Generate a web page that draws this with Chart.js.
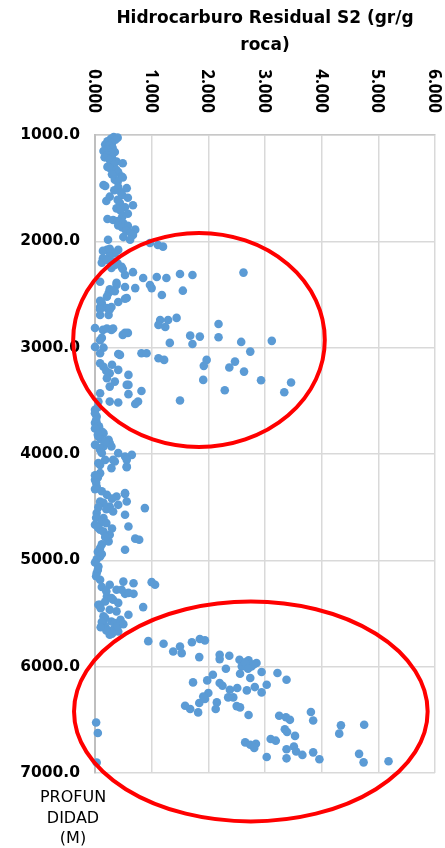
<!DOCTYPE html>
<html>
<head>
<meta charset="utf-8">
<script src="https://cdn.jsdelivr.net/npm/chart.js@4/dist/chart.umd.min.js"></script>
<style>
  html, body { margin: 0; padding: 0; background: #fff; }
  #wrap { width: 445px; height: 848px; position: relative; }
</style>
</head>
<body>
<div id="wrap"><canvas id="c" width="445" height="848"></canvas></div>
<script>
// ---- Data: [S2 (gr/g roca), depth (m)] ----
const seg1000 = [
  [0.33,1020],[0.40,1025],[0.28,1035],[0.36,1045],[0.22,1060],[0.30,1075],[0.18,1090],[0.25,1100],
  [0.31,1120],[0.21,1140],[0.15,1150],[0.35,1160],[0.28,1170],[0.22,1190],[0.17,1210],[0.30,1215],
  [0.26,1235],[0.38,1250],[0.49,1265],[0.33,1280],[0.22,1300],[0.26,1310],[0.38,1330],[0.41,1350],
  [0.30,1370],[0.47,1390],[0.49,1400],[0.35,1420],[0.40,1440],[0.15,1470],[0.18,1480],[0.41,1490],
  [0.56,1500],[0.34,1520],[0.46,1540],[0.48,1565],[0.26,1580],[0.58,1590],[0.40,1610],[0.20,1620],
  [0.44,1640],[0.67,1660],[0.53,1680],[0.38,1690],[0.45,1710],[0.58,1740],[0.48,1770],[0.22,1790],
  [0.32,1800],[0.40,1810],[0.50,1830],[0.41,1850],[0.58,1855],[0.48,1870],[0.71,1890],[0.55,1900],
  [0.63,1920],[0.67,1940],[0.50,1960],[0.62,1985],[0.23,1985]
];
const seg2000 = [
  [0.21,2080],[0.41,2080],[0.97,2015],[1.11,2035],[1.20,2050],[0.14,2090],[0.26,2070],[0.35,2110],
  [0.14,2160],[0.26,2140],[0.35,2190],[0.12,2200],[0.40,2210],[0.49,2260],[0.21,2175],[0.35,2222],
  [0.47,2240],[0.29,2250],[0.67,2290],[0.53,2316],[0.09,2380],[0.85,2345],[1.09,2335],[1.26,2345],
  [1.50,2307],[1.72,2316],[2.62,2294],[0.38,2410],[0.53,2430],[0.71,2440],[0.97,2410],[1.00,2440],
  [1.18,2505],[1.55,2464],[0.24,2486],[0.56,2533],[0.41,2570],[0.12,2580],[0.09,2617],[0.21,2627],
  [0.29,2617],[0.09,2692],[0.24,2692],[1.15,2740],[1.29,2740],[1.44,2720],[1.12,2786],[1.24,2805],
  [2.18,2777],[0.00,2815],[0.14,2833],[0.29,2833],[0.49,2880],[0.58,2861],[0.12,2908],[0.00,2993],
  [1.32,2955],[1.68,2887],[1.85,2896],[2.18,2902],[1.72,2965],[2.58,2946],[3.12,2936],
  [0.38,2390],[0.26,2450],[0.21,2520],[0.35,2470],[0.53,2540],[0.09,2560],[0.09,2640],[0.26,2640],
  [0.21,2820],[0.32,2820],[0.53,2860],[0.09,2930]
];
const seg3000 = [
  [0.15,3000],[0.41,3060],[0.09,3052],[0.44,3068],[0.82,3052],[0.91,3052],[1.12,3099],[1.22,3115],
  [0.09,3146],[1.97,3115],[1.92,3171],[2.47,3131],[2.37,3187],[2.63,3225],[2.74,3037],[0.26,3240],
  [0.41,3209],[0.59,3256],[0.21,3287],[0.35,3319],[0.59,3350],[0.26,3366],[0.82,3407],[0.59,3437],
  [0.09,3428],[0.41,3516],[0.76,3507],[0.71,3529],[1.50,3497],[1.91,3303],[2.93,3306],[3.46,3328],
  [3.34,3419],[2.29,3400],[0.06,3507],[0.26,3507],[0.56,3350],[0.00,3585],[0.03,3648],[0.00,3707],
  [0.12,3789],[0.06,3836],[0.24,3867],[0.00,3914],[0.15,3930],[0.29,3930],[0.09,3961],[0.41,3992],
  [0.03,3710],[0.15,3804],[0.26,3898],[0.09,3945],[0.00,3617],[0.05,3560],[0.02,3680],[0.07,3740],
  [0.00,3760],[0.10,3860],[0.18,3880],[0.05,3820],[0.12,3990],[0.15,3180],[0.30,3160],[0.20,3220]
];
const seg4000 = [
  [0.65,4008],[0.53,4024],[0.18,4055],[0.35,4071],[0.56,4118],[0.09,4102],[0.29,4133],[0.56,4055],
  [0.32,4055],[0.06,4086],[0.56,4124],[0.09,4180],[0.00,4243],[0.03,4306],[0.21,4384],[0.38,4400],
  [0.53,4375],[0.09,4447],[0.56,4447],[0.26,4494],[0.41,4478],[0.53,4572],[0.88,4509],[0.03,4556],
  [0.15,4603],[0.00,4666],[0.09,4713],[0.26,4760],[0.59,4682],[0.71,4796],[0.78,4807],[0.24,4822],
  [0.53,4901],[0.09,4885],[0.09,4964],[0.32,4541],[0.53,4368],[0.00,4200],[0.05,4220],[0.02,4270],
  [0.00,4330],[0.12,4350],[0.30,4420],[0.15,4460],[0.20,4520],[0.06,4500],[0.02,4600],[0.12,4640],
  [0.20,4650],[0.05,4690],[0.15,4730],[0.30,4700],[0.18,4780],[0.12,4850],[0.05,4920],[0.12,4940],
  [0.03,4990]
];
const seg5000 = [
  [0.06,5058],[0.03,5120],[0.09,5183],[0.26,5230],[0.50,5200],[0.68,5215],[1.00,5205],[1.06,5230],
  [0.38,5277],[0.53,5315],[0.68,5315],[0.21,5340],[0.09,5418],[0.32,5371],[0.85,5440],[0.26,5465],
  [0.15,5527],[0.06,5418],[0.18,5387],[0.29,5355],[0.41,5400],[0.59,5306],[0.47,5277],[0.38,5480],
  [0.59,5512],[0.18,5543],[0.29,5575],[0.18,5622],[0.35,5637],[0.41,5669],[0.26,5700],[0.94,5760],
  [1.21,5785],[1.38,5857],[1.50,5810],[1.53,5873],[1.71,5770],[1.85,5740],[1.94,5753],[1.84,5910],
  [2.20,5889],[2.37,5898],[2.20,5929],[2.55,5935],[2.71,5941],[2.85,5966],[2.59,5997],[2.76,5997],
  [0.00,5020],[0.05,5090],[0.02,5150],[0.12,5250],[0.20,5290],[0.10,5450],[0.15,5600],[0.25,5660],
  [0.12,5580],[0.35,5590],[0.45,5560],[0.20,5660],[0.30,5690],[0.40,5620],[0.50,5600],[0.10,5630],
  [2.65,5960],[2.80,5980]
];
const seg6000 = [
  [2.31,6019],[2.56,6066],[2.94,6050],[2.74,6107],[3.22,6060],[3.38,6123],[1.73,6148],[1.98,6129],
  [2.08,6076],[2.20,6154],[2.25,6179],[2.38,6217],[2.51,6201],[2.68,6223],[2.82,6192],[3.03,6170],
  [2.94,6242],[2.00,6248],[1.94,6304],[1.84,6342],[1.91,6280],[2.15,6336],[2.13,6398],[2.35,6289],
  [2.44,6289],[2.50,6371],[2.56,6383],[2.71,6455],[1.59,6367],[1.68,6398],[1.82,6430],[0.02,6525],
  [0.05,6624],[0.03,6901],[3.25,6462],[3.37,6475],[3.44,6500],[3.81,6427],[3.85,6506],[3.35,6589],
  [3.39,6614],[3.53,6651],[4.34,6552],[4.31,6630],[4.75,6546],[3.10,6680],[3.19,6696],[2.65,6712],
  [2.74,6734],[2.84,6725],[2.81,6765],[3.38,6776],[3.51,6751],[3.55,6798],[3.66,6830],[3.85,6806],
  [3.96,6871],[3.03,6849],[3.38,6862],[4.66,6820],[4.74,6900],[5.18,6889],[2.70,6020]
];

const xTickLabels = ['0.000','1.000','2.000','3.000','4.000','5.000','6.000'];
const xTickValues = [0, 1, 2, 3, 4, 5, 6];
const xTitle = ['Hidrocarburo Residual S2 (gr/g', 'roca)'];
const yTitle = ['PROFUN', 'DIDAD', '(M)'];
// highlight ellipses: [centerS2, centerDepth, radiusS2, radiusDepth]
const ellipses = [
  [1.835, 2927, 2.22, 1006],
  [2.75, 6421, 3.12, 1034]
];

const points = [...seg1000, ...seg2000, ...seg3000, ...seg4000, ...seg5000, ...seg6000]
  .map(([x, y]) => ({x, y}));

const decor = {
  id: 'decor',
  afterDatasetsDraw(chart) {
    const {ctx, scales: {x, y}} = chart;
    ctx.save();
    ctx.strokeStyle = '#ff0000';
    ctx.lineWidth = 4;
    ellipses.forEach(([cx, cy, rx, ry]) => {
      const px = x.getPixelForValue(cx), py = y.getPixelForValue(cy);
      const rpx = Math.abs(x.getPixelForValue(cx + rx) - px);
      const rpy = Math.abs(y.getPixelForValue(cy + ry) - py);
      ctx.beginPath();
      ctx.ellipse(px, py, rpx, rpy, 0, 0, Math.PI * 2);
      ctx.stroke();
    });
    ctx.restore();
  },
  afterDraw(chart) {
    const {ctx, scales: {x}, chartArea} = chart;
    ctx.save();
    ctx.fillStyle = '#000';
    ctx.font = 'bold 17px "Open Sans"';
    ctx.textAlign = 'right';
    ctx.textBaseline = 'middle';
    xTickValues.forEach((v, i) => {
      const px = x.getPixelForValue(v);
      ctx.save();
      ctx.translate(px - 1, chartArea.top - 22);
      ctx.rotate(Math.PI / 2);
      ctx.fillText(xTickLabels[i], 0, 0);
      ctx.restore();
    });
    ctx.font = '16px "DejaVu Sans"';
    ctx.textAlign = 'center';
    ctx.textBaseline = 'middle';
    yTitle.forEach((t, i) => ctx.fillText(t, 73, 798 + i * 20.5));
    ctx.restore();
  }
};

new Chart(document.getElementById('c'), {
  type: 'scatter',
  data: {
    datasets: [{
      data: points,
      pointStyle: 'circle',
      pointRadius: 4.3,
      pointBorderWidth: 0,
      pointBackgroundColor: '#5b9bd5',
      backgroundColor: '#5b9bd5',
      borderColor: '#5b9bd5',
      clip: false
    }]
  },
  options: {
    responsive: false,
    animation: false,
    events: [],
    layout: { padding: { left: 14, right: 10, top: 0, bottom: 75 } },
    plugins: { legend: { display: false }, tooltip: { enabled: false } },
    scales: {
      x: {
        type: 'linear',
        position: 'top',
        min: 0, max: 6,
        ticks: { display: false, stepSize: 1 },
        grid: { color: '#d9d9d9', lineWidth: 1.5, drawTicks: false },
        border: { color: '#c8c8c8', width: 1.5 },
        title: {
          display: true,
          text: xTitle,
          color: '#000',
          font: { family: 'DejaVu Sans', size: 17, weight: 'bold', lineHeight: 1.6 },
          padding: { top: 5, bottom: 77 }
        },
        afterFit: s => { s.height = 135; }
      },
      y: {
        type: 'linear',
        position: 'left',
        reverse: true,
        min: 1000, max: 7000,
        ticks: {
          stepSize: 1000,
          padding: 15,
          color: '#000',
          font: { family: 'DejaVu Sans', size: 15.5, weight: 'bold' },
          callback: v => Number(v).toFixed(1)
        },
        grid: { color: '#d9d9d9', lineWidth: 1.5, drawTicks: false },
        border: { color: '#bfbfbf', width: 2 },
        afterFit: s => { s.width = 81; }
      }
    }
  },
  plugins: [decor]
});
</script>
</body>
</html>
